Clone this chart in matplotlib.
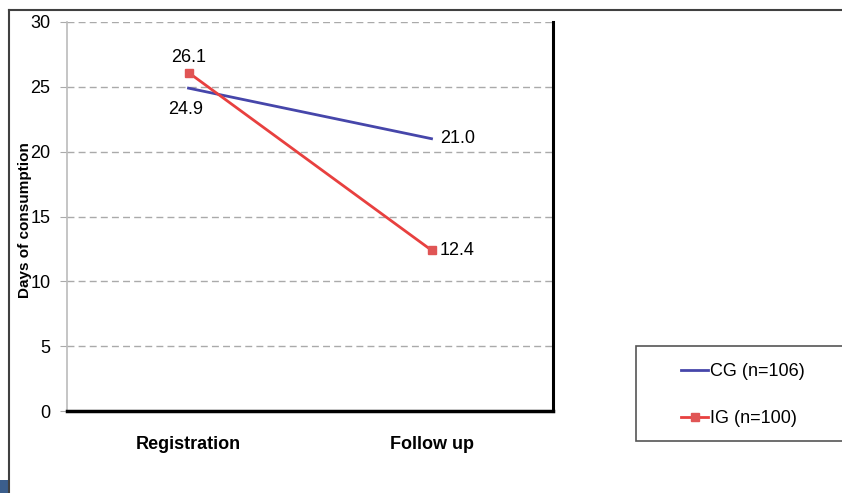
import matplotlib.pyplot as plt
from matplotlib.patches import Rectangle
from matplotlib.lines import Line2D

plt.rcParams['font.family'] = ['Liberation Sans', 'DejaVu Sans']

# data
categories = ["Registration", "Follow up"]
cg_values = [24.9, 21.0]
ig_values = [26.1, 12.4]
cg_label = "CG (n=106)"
ig_label = "IG (n=100)"
y_ticks = [0, 5, 10, 15, 20, 25, 30]

blue = "#4646AA"
red = "#E8403F"


def main():
    fig = plt.figure(figsize=(8.42, 4.93), dpi=100)
    ax = fig.add_axes([67 / 842, 1 - 411 / 493, (553 - 67) / 842, (411 - 22) / 493])

    x = [0, 1]
    ax.plot(x, cg_values, color=blue, lw=2, label=cg_label)
    ax.plot(x, ig_values, color=red, lw=2, marker='s', markersize=6,
            markerfacecolor="#E05555", markeredgecolor="#E05555", label=ig_label)

    # value labels
    ax.annotate(f"{ig_values[0]:.1f}", (x[0], ig_values[0]), xytext=(0, 5),
                textcoords='offset points', ha='center', va='bottom', fontsize=13)
    ax.annotate(f"{cg_values[0]:.1f}", (x[0], cg_values[0]), xytext=(-2, -9),
                textcoords='offset points', ha='center', va='top', fontsize=13)
    ax.annotate(f"{cg_values[1]:.1f}", (x[1], cg_values[1]), xytext=(6, 0),
                textcoords='offset points', ha='left', va='center', fontsize=13)
    ax.annotate(f"{ig_values[1]:.1f}", (x[1], ig_values[1]), xytext=(6, 0),
                textcoords='offset points', ha='left', va='center', fontsize=13)

    ax.set_xlim(-0.5, 1.5)
    ax.set_ylim(0, 30)
    ax.set_yticks(y_ticks)
    ax.set_xticks(x)
    ax.set_xticklabels(categories, fontsize=13, fontweight='bold')
    ax.tick_params(axis='x', length=0, pad=18)
    ax.tick_params(axis='y', labelsize=13, length=5, color='#AAAAAA', pad=7)
    ax.yaxis.grid(True, linestyle=(0, (5, 3)), color='#AAAAAA', lw=1)
    ax.set_axisbelow(True)

    ax.spines['top'].set_visible(False)
    ax.spines['left'].set_color('#BBBBBB')
    ax.spines['left'].set_linewidth(1.2)
    ax.spines['bottom'].set_color('black')
    ax.spines['bottom'].set_linewidth(2.5)
    ax.spines['right'].set_color('black')
    ax.spines['right'].set_linewidth(2.2)

    fig.text(25 / 842, 1 - 220 / 493, "Days of consumption", rotation=90,
             ha='center', va='center', fontsize=11, fontweight='bold')

    # outer chart border
    fig.add_artist(Line2D([9 / 842, 9 / 842], [0, 1 - 10 / 493], color='#404040', lw=1.5))
    fig.add_artist(Line2D([9 / 842, 1], [1 - 10 / 493, 1 - 10 / 493], color='#404040', lw=1.5))
    fig.add_artist(Rectangle((0, 0), 8 / 842, 13 / 493, color='#3B5E8C', lw=0))

    # legend box
    fig.add_artist(Rectangle((636 / 842, 1 - 441 / 493), 220 / 842, 95 / 493,
                             facecolor='white', edgecolor='#555555', lw=1.2))
    handles, labels = ax.get_legend_handles_labels()
    fig.legend(handles, labels, loc='upper left', bbox_to_anchor=(665 / 842, 1 - 347 / 493),
               frameon=False, fontsize=13, handlelength=1.5, handletextpad=0.1,
               labelspacing=1.65)

    fig.savefig("out.png", dpi=100)


if __name__ == "__main__":
    main()
